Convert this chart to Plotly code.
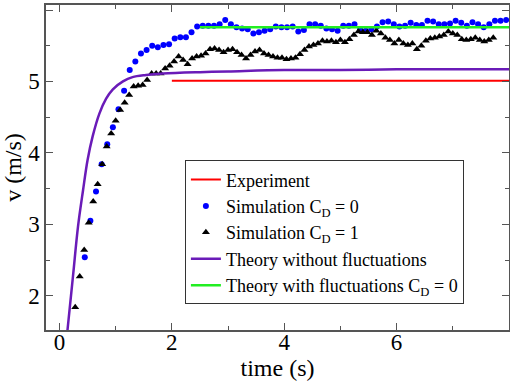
import plotly.graph_objects as go

# Experiment (red line)
exp_t = [2.0, 8.0]
exp_v = [5.01, 5.01]

# Theory with fluctuations C_D = 0 (green line)
thf_t = [2.5, 8.0]
thf_v = [5.76, 5.76]

# Theory without fluctuations (purple curve)
th_t = [0.14, 0.24, 0.33, 0.42, 0.50, 0.59, 0.71, 0.83, 0.95, 1.13, 1.30, 1.54, 1.84,
        2.5, 3.0, 4.0, 5.0, 6.0, 7.0, 8.0]
th_v = [1.50, 2.27, 2.97, 3.48, 3.90, 4.23, 4.55, 4.76, 4.89, 5.00, 5.06, 5.09, 5.11,
        5.13, 5.14, 5.16, 5.16, 5.17, 5.17, 5.17]

# Simulation C_D = 0 (blue dots), dt = 0.1 from t = 0.45
sim0_t = [round(0.45 + 0.1 * k, 2) for k in range(76)]
sim0_v = [2.54, 3.05, 3.46, 3.84, 4.12, 4.36, 4.61, 4.87, 5.16, 5.28,
          5.39, 5.44, 5.50, 5.48, 5.51, 5.52, 5.60, 5.62, 5.62, 5.69,
          5.77, 5.78, 5.78, 5.78, 5.80, 5.86, 5.80, 5.76, 5.74, 5.73,
          5.67, 5.69, 5.71, 5.73, 5.77, 5.76, 5.76, 5.77, 5.70, 5.72,
          5.80, 5.80, 5.78, 5.74, 5.73, 5.71, 5.78, 5.78, 5.80, 5.73,
          5.71, 5.73, 5.77, 5.83, 5.84, 5.80, 5.77, 5.78, 5.82, 5.79,
          5.79, 5.85, 5.84, 5.80, 5.80, 5.81, 5.85, 5.82, 5.78, 5.83,
          5.80, 5.76, 5.80, 5.85, 5.85, 5.86]

# Simulation C_D = 1 (black triangles), dt = 0.08 from t = 0.28
sim1_t = [round(0.28 + 0.08 * k, 2) for k in range(94)]
sim1_v = [1.84, 2.27, 2.64, 3.02, 3.32, 3.56, 3.84, 4.09, 4.27, 4.45,
          4.60, 4.70, 4.81, 4.93, 4.94, 4.95, 5.02, 5.11, 5.11, 5.11,
          5.18, 5.22, 5.28, 5.35, 5.30, 5.24, 5.32, 5.35, 5.36, 5.39,
          5.45, 5.46, 5.44, 5.41, 5.44, 5.45, 5.41, 5.37, 5.32, 5.37,
          5.42, 5.44, 5.39, 5.37, 5.35, 5.33, 5.33, 5.31, 5.32, 5.33,
          5.38, 5.44, 5.49, 5.51, 5.53, 5.57, 5.56, 5.57, 5.55, 5.58,
          5.55, 5.59, 5.65, 5.70, 5.69, 5.69, 5.65, 5.71, 5.67, 5.61,
          5.58, 5.53, 5.58, 5.53, 5.51, 5.53, 5.45, 5.50, 5.57, 5.60,
          5.61, 5.63, 5.65, 5.70, 5.67, 5.65, 5.59, 5.58, 5.59, 5.61,
          5.58, 5.56, 5.58, 5.61]

x_ticks = [0, 2, 4, 6]
y_ticks = [2, 3, 4, 5, 6]

FONT = "Liberation Serif"

fig = go.Figure()
fig.add_trace(go.Scatter(x=exp_t, y=exp_v, mode="lines", name="Experiment",
                         line=dict(color="#ff0000", width=2)))
fig.add_trace(go.Scatter(x=sim0_t, y=sim0_v, mode="markers", name="Simulation C<sub>D</sub> = 0",
                         marker=dict(color="#0000ff", size=6, symbol="circle")))
fig.add_trace(go.Scatter(x=sim1_t, y=sim1_v, mode="markers", name="Simulation C<sub>D</sub> = 1",
                         marker=dict(color="#000000", size=7, symbol="triangle-up")))
fig.add_trace(go.Scatter(x=th_t, y=th_v, mode="lines", name="Theory without fluctuations",
                         line=dict(color="#6a1bb8", width=2.5, shape="spline")))
fig.add_trace(go.Scatter(x=thf_t, y=thf_v, mode="lines", name="Theory with fluctuations C<sub>D</sub> = 0",
                         line=dict(color="#22ee22", width=2.5)))

axis_common = dict(
    showline=True, mirror="ticks", linecolor="#555555", linewidth=1.5,
    ticks="inside", ticklen=7, tickwidth=1.2, tickcolor="#555555",
    showgrid=False, zeroline=False, automargin=False,
    tickfont=dict(family=FONT, size=23, color="black"),
)

fig.update_xaxes(range=[-0.24, 8.0], tickvals=x_ticks, ticklabelstandoff=-9,
                 minor=dict(dtick=1, ticks="inside", ticklen=4, tickcolor="#555555"),
                 title=dict(text="time (s)", font=dict(family=FONT, size=24, color="black"),
                            standoff=0),
                 **axis_common)
fig.update_yaxes(range=[1.52, 6.07], tickvals=y_ticks,
                 minor=dict(dtick=0.5, ticks="inside", ticklen=4, tickcolor="#555555"),
                 title=dict(text="v (m/s)", font=dict(family=FONT, size=24, color="black")),
                 **axis_common)

fig.update_layout(
    width=510, height=384,
    margin=dict(l=46, r=1, t=5, b=54),
    plot_bgcolor="white", paper_bgcolor="white",
    font=dict(family=FONT, color="black"),
    legend=dict(x=0.300, y=0.522, xanchor="left", yanchor="top",
                bgcolor="white", bordercolor="#333333", borderwidth=1,
                font=dict(family=FONT, size=18, color="black"),
                itemwidth=30, tracegroupgap=0),
    showlegend=True,
)

fig.write_html("out.html", config={"displayModeBar": False},
               post_script="document.body.style.margin='0';document.body.style.padding='0';")
